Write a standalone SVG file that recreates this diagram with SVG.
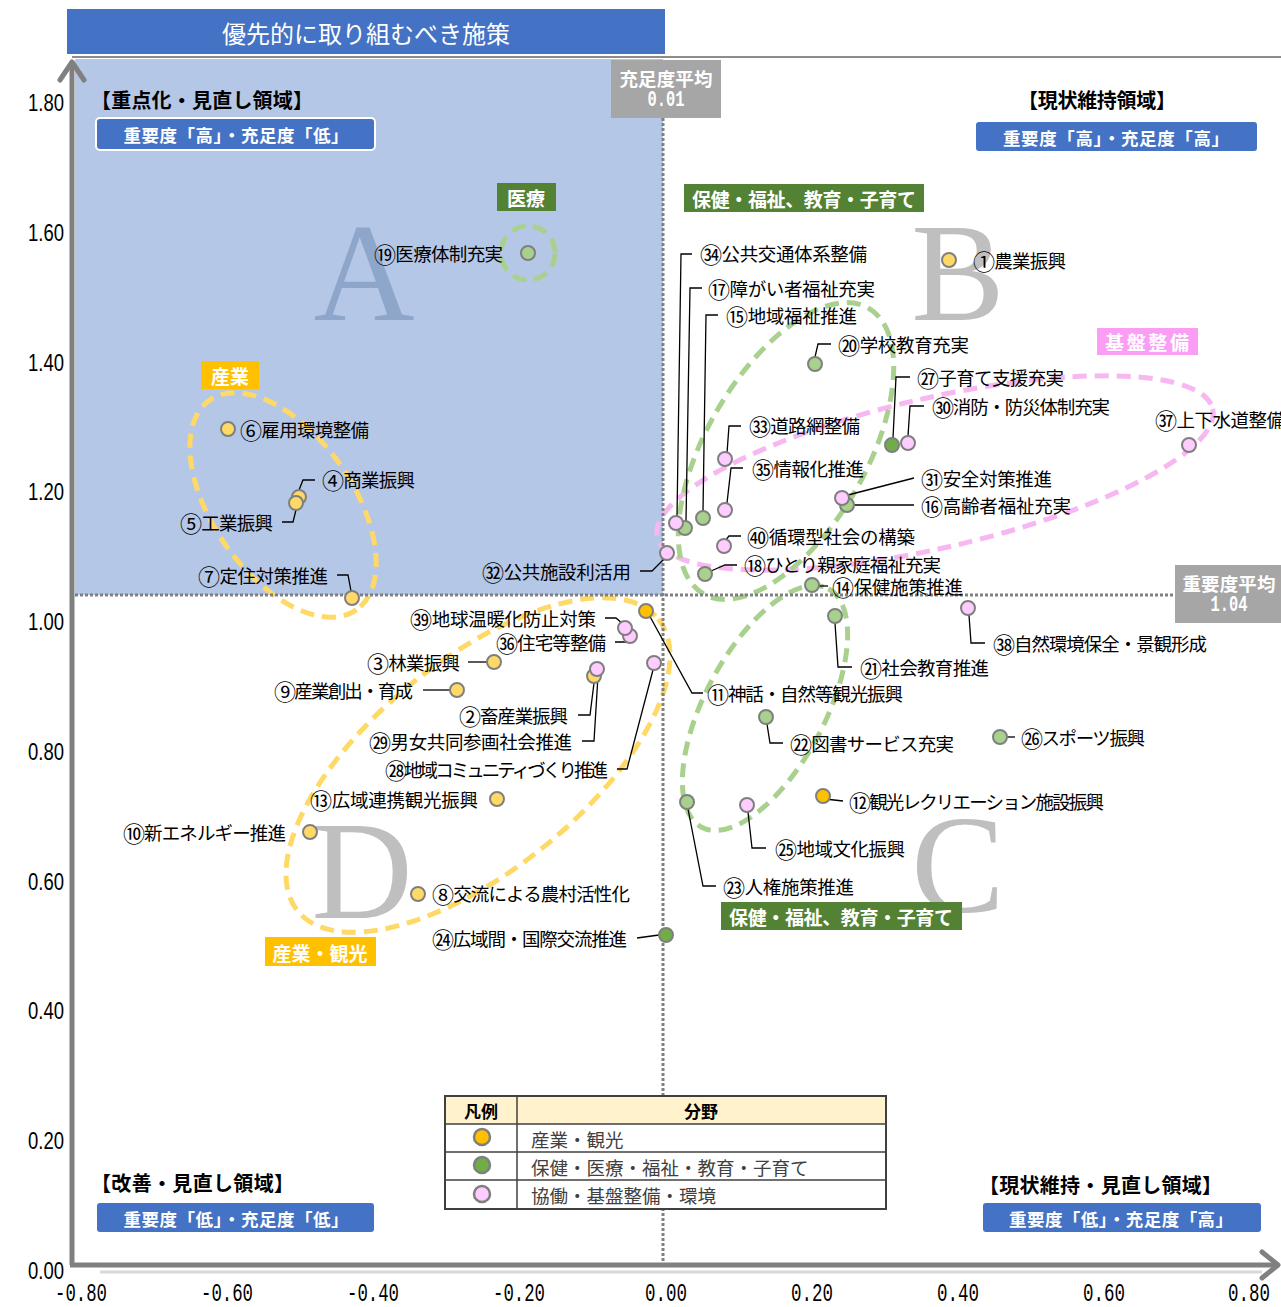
<svg xmlns="http://www.w3.org/2000/svg" width="1281" height="1307" viewBox="0 0 1281 1307">
<style>
.j{font-family:"Noto Sans CJK JP","Noto Sans CJK SC",sans-serif}
.lbl{font-family:"Noto Sans CJK JP",sans-serif;font-size:18.5px;fill:#000;dominant-baseline:central}
.cn{font-size:22px}
.end{text-anchor:end}
.mid{text-anchor:middle}
.hd{font-family:"Noto Sans CJK JP",sans-serif;font-size:20px;font-weight:bold;fill:#000;dominant-baseline:central}
.bx{fill:#4472C4;stroke:#fff;stroke-width:2}
.bxt{font-family:"Noto Sans CJK JP",sans-serif;font-size:17.5px;font-weight:bold;fill:#fff;dominant-baseline:central;text-anchor:middle}
.cat{font-family:"Noto Sans CJK JP",sans-serif;font-size:19px;font-weight:bold;fill:#fff;dominant-baseline:central;text-anchor:middle}
.pt{stroke:#7F7F7F;stroke-width:2}
.y{fill:#FFD966}.o{fill:#FFC000}.g{fill:#A9D18E}.dg{fill:#70AD47}.p{fill:#FFCCFF}
.ldr{fill:none;stroke:#000;stroke-width:1.3}
.dot{fill:none;stroke:#808080;stroke-width:3;stroke-dasharray:3 2}
.big{font-family:"Liberation Serif",serif;font-size:140px;text-anchor:middle}
.ell{fill:none;stroke-width:5;stroke-dasharray:14 8}
.yt{font-family:"Liberation Sans",sans-serif;font-size:23px;fill:#000;dominant-baseline:central;text-anchor:end}
.xt{font-family:"Liberation Mono",monospace;font-size:26px;fill:#000;dominant-baseline:central;text-anchor:middle}
.gb{fill:#A6A6A6}
.gbt{font-family:"Noto Sans CJK JP",sans-serif;font-size:18.5px;font-weight:bold;fill:#fff;dominant-baseline:central;text-anchor:middle}
.gbn{font-family:"Liberation Mono",monospace;font-size:22px;font-weight:bold;fill:#fff;dominant-baseline:central;text-anchor:middle}
.lg{font-family:"Noto Sans CJK JP",sans-serif;font-size:18.5px;fill:#404040;dominant-baseline:central}
</style>
<rect x="0" y="0" width="1281" height="1307" fill="#fff"/>
<rect x="75" y="59" width="588" height="536" fill="#B4C7E7"/>
<text class="big" x="364" y="320" fill="#8FA6CB">A</text>
<text class="big" x="958" y="320" fill="#BFBFBF">B</text>
<text class="big" x="958" y="912" fill="#BFBFBF">C</text>
<text class="big" x="362" y="918" fill="#BFBFBF">D</text>
<g id="groups">
<circle class="ell" cx="528" cy="253" r="27" stroke="#A9D18E"/>
<ellipse class="ell" cx="283" cy="505" rx="128" ry="70" transform="rotate(55 283 505)" stroke="#FFD966"/>
<ellipse class="ell" cx="478" cy="765" rx="232" ry="105" transform="rotate(-39 478 765)" stroke="#FFD966"/>
<ellipse class="ell" cx="935" cy="473" rx="285" ry="75" transform="rotate(-13 935 473)" stroke="#F7B8F2"/>
<ellipse class="ell" cx="786" cy="451" rx="165" ry="80" transform="rotate(-60 786 451)" stroke="#A9D18E"/>
<ellipse class="ell" cx="765" cy="708" rx="135" ry="60" transform="rotate(-62 765 708)" stroke="#A9D18E"/>
</g>
<g id="axes">
<line x1="72" y1="57" x2="1281" y2="57" stroke="#8C8C8C" stroke-width="2"/>
<line x1="100" y1="1272" x2="1262" y2="1272" stroke="#D9D9D9" stroke-width="3"/>
<line x1="72" y1="1265" x2="72" y2="62" stroke="#808080" stroke-width="5"/>
<polyline points="60,80 72,62 84,80" fill="none" stroke="#808080" stroke-width="5" stroke-linecap="round" stroke-linejoin="round"/>
<line x1="70" y1="1265" x2="1276" y2="1265" stroke="#808080" stroke-width="5"/>
<polyline points="1262,1252 1278,1265 1262,1278" fill="none" stroke="#808080" stroke-width="5" stroke-linecap="round" stroke-linejoin="round"/>
<line class="dot" x1="663" y1="118" x2="663" y2="1262"/>
<line class="dot" x1="75" y1="595" x2="1175" y2="595"/>
<text class="yt" x="64" y="103" textLength="36" lengthAdjust="spacingAndGlyphs">1.80</text>
<text class="yt" x="64" y="233" textLength="36" lengthAdjust="spacingAndGlyphs">1.60</text>
<text class="yt" x="64" y="363" textLength="36" lengthAdjust="spacingAndGlyphs">1.40</text>
<text class="yt" x="64" y="492" textLength="36" lengthAdjust="spacingAndGlyphs">1.20</text>
<text class="yt" x="64" y="622" textLength="36" lengthAdjust="spacingAndGlyphs">1.00</text>
<text class="yt" x="64" y="752" textLength="36" lengthAdjust="spacingAndGlyphs">0.80</text>
<text class="yt" x="64" y="882" textLength="36" lengthAdjust="spacingAndGlyphs">0.60</text>
<text class="yt" x="64" y="1011" textLength="36" lengthAdjust="spacingAndGlyphs">0.40</text>
<text class="yt" x="64" y="1141" textLength="36" lengthAdjust="spacingAndGlyphs">0.20</text>
<text class="yt" x="64" y="1271" textLength="36" lengthAdjust="spacingAndGlyphs">0.00</text>
<text class="xt" x="81" y="1294" textLength="52" lengthAdjust="spacingAndGlyphs">-0.80</text>
<text class="xt" x="227" y="1294" textLength="52" lengthAdjust="spacingAndGlyphs">-0.60</text>
<text class="xt" x="373" y="1294" textLength="52" lengthAdjust="spacingAndGlyphs">-0.40</text>
<text class="xt" x="519" y="1294" textLength="52" lengthAdjust="spacingAndGlyphs">-0.20</text>
<text class="xt" x="666" y="1294" textLength="42" lengthAdjust="spacingAndGlyphs">0.00</text>
<text class="xt" x="812" y="1294" textLength="42" lengthAdjust="spacingAndGlyphs">0.20</text>
<text class="xt" x="958" y="1294" textLength="42" lengthAdjust="spacingAndGlyphs">0.40</text>
<text class="xt" x="1104" y="1294" textLength="42" lengthAdjust="spacingAndGlyphs">0.60</text>
<text class="xt" x="1249" y="1294" textLength="42" lengthAdjust="spacingAndGlyphs">0.80</text>
</g>
<g id="connectors">
<polyline class="ldr" points="578,715 590,715 594,683"/>
<polyline class="ldr" points="582,741 594,741 598,676"/>
<polyline class="ldr" points="468,662 487,662"/>
<polyline class="ldr" points="315,480 303,480 299,490"/>
<polyline class="ldr" points="282,522 293,522 296,510"/>
<polyline class="ldr" points="337,575 348,575 351,591"/>
<polyline class="ldr" points="423,690 450,690"/>
<polyline class="ldr" points="648,613 692,693 703,693"/>
<polyline class="ldr" points="825,799 843,801"/>
<polyline class="ldr" points="819,586 828,586"/>
<polyline class="ldr" points="718,315 706,315 703,511"/>
<polyline class="ldr" points="853,505 914,505"/>
<polyline class="ldr" points="702,288 690,288 686,521"/>
<polyline class="ldr" points="711,571 725,565 737,565"/>
<polyline class="ldr" points="815,357 818,344 831,344"/>
<polyline class="ldr" points="835,623 838,667 852,667"/>
<polyline class="ldr" points="767,724 770,743 783,743"/>
<polyline class="ldr" points="688,809 703,886 716,886"/>
<polyline class="ldr" points="637,938 659,935"/>
<polyline class="ldr" points="748,812 752,848 766,848"/>
<polyline class="ldr" points="1007,737 1015,737"/>
<polyline class="ldr" points="893,438 896,377 910,377"/>
<polyline class="ldr" points="617,769 627,769 653,670"/>
<polyline class="ldr" points="908,436 910,406 924,406"/>
<polyline class="ldr" points="848,495 914,478"/>
<polyline class="ldr" points="640,571 652,571 665,558"/>
<polyline class="ldr" points="727,453 729,426 741,426"/>
<polyline class="ldr" points="692,254 681,254 677,516"/>
<polyline class="ldr" points="727,503 731,468 743,468"/>
<polyline class="ldr" points="615,642 626,642 630,637"/>
<polyline class="ldr" points="969,615 971,643 985,643"/>
<polyline class="ldr" points="605,618 616,618 623,624"/>
<polyline class="ldr" points="725,541 729,536 741,536"/>
</g>
<g id="n01"><circle class="pt y" cx="949" cy="260" r="7"/><text class="lbl" x="973" y="260" textLength="93"><tspan class="cn">①</tspan>農業振興</text></g>
<g id="n02"><circle class="pt y" cx="594" cy="676" r="7"/><text class="lbl end" x="568" y="715" textLength="109"><tspan class="cn">②</tspan>畜産業振興</text></g>
<g id="n29"><circle class="pt p" cx="597" cy="669" r="7"/><text class="lbl end" x="572" y="741" textLength="203"><tspan class="cn">㉙</tspan>男女共同参画社会推進</text></g>
<g id="n03"><circle class="pt y" cx="494" cy="662" r="7"/><text class="lbl end" x="460" y="662" textLength="93"><tspan class="cn">③</tspan>林業振興</text></g>
<g id="n04"><circle class="pt y" cx="299" cy="497" r="7"/><text class="lbl" x="322" y="479" textLength="93"><tspan class="cn">④</tspan>商業振興</text></g>
<g id="n05"><circle class="pt y" cx="296" cy="503" r="7"/><text class="lbl end" x="273" y="522" textLength="93"><tspan class="cn">⑤</tspan>工業振興</text></g>
<g id="n06"><circle class="pt y" cx="228" cy="429" r="7"/><text class="lbl" x="240" y="429" textLength="129"><tspan class="cn">⑥</tspan>雇用環境整備</text></g>
<g id="n07"><circle class="pt y" cx="352" cy="598" r="7"/><text class="lbl end" x="328" y="575" textLength="130"><tspan class="cn">⑦</tspan>定住対策推進</text></g>
<g id="n08"><circle class="pt y" cx="418" cy="894" r="7"/><text class="lbl" x="432" y="893" textLength="198"><tspan class="cn">⑧</tspan>交流による農村活性化</text></g>
<g id="n09"><circle class="pt y" cx="457" cy="690" r="7"/><text class="lbl end" x="413" y="690" textLength="139"><tspan class="cn">⑨</tspan>産業創出・育成</text></g>
<g id="n10"><circle class="pt y" cx="310" cy="832" r="7"/><text class="lbl end" x="286" y="832" textLength="163"><tspan class="cn">⑩</tspan>新エネルギー推進</text></g>
<g id="n11"><circle class="pt o" cx="646" cy="611" r="7"/><text class="lbl" x="707" y="693" textLength="196"><tspan class="cn">⑪</tspan>神話・自然等観光振興</text></g>
<g id="n12"><circle class="pt o" cx="823" cy="796" r="7"/><text class="lbl" x="849" y="801" textLength="255"><tspan class="cn">⑫</tspan>観光レクリエーション施設振興</text></g>
<g id="n13"><circle class="pt y" cx="497" cy="799" r="7"/><text class="lbl end" x="478" y="799" textLength="168"><tspan class="cn">⑬</tspan>広域連携観光振興</text></g>
<g id="n14"><circle class="pt g" cx="812" cy="585" r="7"/><text class="lbl" x="832" y="586" textLength="131"><tspan class="cn">⑭</tspan>保健施策推進</text></g>
<g id="n15"><circle class="pt g" cx="703" cy="518" r="7"/><text class="lbl" x="726" y="315" textLength="131"><tspan class="cn">⑮</tspan>地域福祉推進</text></g>
<g id="n16"><circle class="pt g" cx="847" cy="505" r="7"/><text class="lbl" x="921" y="505" textLength="150"><tspan class="cn">⑯</tspan>高齢者福祉充実</text></g>
<g id="n17"><circle class="pt g" cx="685" cy="528" r="7"/><text class="lbl" x="708" y="288" textLength="167"><tspan class="cn">⑰</tspan>障がい者福祉充実</text></g>
<g id="n18"><circle class="pt g" cx="705" cy="574" r="7"/><text class="lbl" x="744" y="564" textLength="197"><tspan class="cn">⑱</tspan>ひとり親家庭福祉充実</text></g>
<g id="n19"><circle class="pt g" cx="528" cy="253" r="7"/><text class="lbl end" x="503" y="253" textLength="129"><tspan class="cn">⑲</tspan>医療体制充実</text></g>
<g id="n20"><circle class="pt g" cx="815" cy="364" r="7"/><text class="lbl" x="838" y="344" textLength="131"><tspan class="cn">⑳</tspan>学校教育充実</text></g>
<g id="n21"><circle class="pt g" cx="835" cy="616" r="7"/><text class="lbl" x="860" y="667" textLength="129"><tspan class="cn">㉑</tspan>社会教育推進</text></g>
<g id="n22"><circle class="pt g" cx="766" cy="717" r="7"/><text class="lbl" x="790" y="743" textLength="164"><tspan class="cn">㉒</tspan>図書サービス充実</text></g>
<g id="n23"><circle class="pt g" cx="687" cy="802" r="7"/><text class="lbl" x="723" y="886" textLength="131"><tspan class="cn">㉓</tspan>人権施策推進</text></g>
<g id="n24"><circle class="pt dg" cx="666" cy="935" r="7"/><text class="lbl end" x="627" y="938" textLength="195"><tspan class="cn">㉔</tspan>広域間・国際交流推進</text></g>
<g id="n25"><circle class="pt p" cx="747" cy="805" r="7"/><text class="lbl" x="775" y="848" textLength="130"><tspan class="cn">㉕</tspan>地域文化振興</text></g>
<g id="n26"><circle class="pt g" cx="1000" cy="737" r="7"/><text class="lbl" x="1021" y="737" textLength="124"><tspan class="cn">㉖</tspan>スポーツ振興</text></g>
<g id="n27"><circle class="pt dg" cx="892" cy="445" r="7"/><text class="lbl" x="917" y="377" textLength="147"><tspan class="cn">㉗</tspan>子育て支援充実</text></g>
<g id="n28"><circle class="pt p" cx="654" cy="663" r="7"/><text class="lbl end" x="608" y="769" textLength="223"><tspan class="cn">㉘</tspan>地域コミュニティづくり推進</text></g>
<g id="n30"><circle class="pt p" cx="908" cy="443" r="7"/><text class="lbl" x="932" y="406" textLength="178"><tspan class="cn">㉚</tspan>消防・防災体制充実</text></g>
<g id="n31"><circle class="pt p" cx="842" cy="498" r="7"/><text class="lbl" x="921" y="478" textLength="131"><tspan class="cn">㉛</tspan>安全対策推進</text></g>
<g id="n32"><circle class="pt p" cx="667" cy="553" r="7"/><text class="lbl end" x="631" y="571" textLength="149"><tspan class="cn">㉜</tspan>公共施設利活用</text></g>
<g id="n33"><circle class="pt p" cx="725" cy="459" r="7"/><text class="lbl" x="749" y="425" textLength="111"><tspan class="cn">㉝</tspan>道路網整備</text></g>
<g id="n34"><circle class="pt p" cx="676" cy="523" r="7"/><text class="lbl" x="700" y="253" textLength="167"><tspan class="cn">㉞</tspan>公共交通体系整備</text></g>
<g id="n35"><circle class="pt p" cx="725" cy="510" r="7"/><text class="lbl" x="752" y="468" textLength="112"><tspan class="cn">㉟</tspan>情報化推進</text></g>
<g id="n36"><circle class="pt p" cx="630" cy="636" r="7"/><text class="lbl end" x="606" y="642" textLength="110"><tspan class="cn">㊱</tspan>住宅等整備</text></g>
<g id="n39"><circle class="pt p" cx="625" cy="628" r="7"/><text class="lbl end" x="596" y="618" textLength="186"><tspan class="cn">㊴</tspan>地球温暖化防止対策</text></g>
<g id="n37"><circle class="pt p" cx="1189" cy="445" r="7"/><text class="lbl" x="1155" y="419" textLength="130"><tspan class="cn">㊲</tspan>上下水道整備</text></g>
<g id="n38"><circle class="pt p" cx="968" cy="608" r="7"/><text class="lbl" x="993" y="643" textLength="214"><tspan class="cn">㊳</tspan>自然環境保全・景観形成</text></g>
<g id="n40"><circle class="pt p" cx="724" cy="546" r="7"/><text class="lbl" x="747" y="536" textLength="168"><tspan class="cn">㊵</tspan>循環型社会の構築</text></g>
<g id="title">
<rect x="67" y="9" width="598" height="45" fill="#4472C4"/>
<text class="j" x="366" y="32" font-size="24" fill="#fff" text-anchor="middle" dominant-baseline="central">優先的に取り組むべき施策</text>
</g>
<g id="avgX">
<rect class="gb" x="611" y="60" width="110" height="58"/>
<text class="gbt" x="666" y="78" textLength="93">充足度平均</text>
<text class="gbn" x="666" y="100" textLength="37" lengthAdjust="spacingAndGlyphs">0.01</text>
</g>
<g id="avgY">
<rect class="gb" x="1175" y="565" width="106" height="58"/>
<text class="gbt" x="1229" y="583" textLength="93">重要度平均</text>
<text class="gbn" x="1229" y="605" textLength="37" lengthAdjust="spacingAndGlyphs">1.04</text>
</g>
<g id="qA">
<text class="hd" x="91" y="99" textLength="222">【重点化・見直し領域】</text>
<rect class="bx" x="96" y="118" width="279" height="32" rx="4"/>
<text class="bxt" x="236" y="134" textLength="225">重要度「高」・充足度「低」</text>
</g>
<g id="qB">
<text class="hd mid" x="1097" y="99" textLength="158">【現状維持領域】</text>
<rect class="bx" x="975" y="121" width="283" height="31" rx="4"/>
<text class="bxt" x="1116" y="137" textLength="226">重要度「高」・充足度「高」</text>
</g>
<g id="qD">
<text class="hd" x="91" y="1182" textLength="203">【改善・見直し領域】</text>
<rect class="bx" x="96" y="1202" width="279" height="31" rx="4"/>
<text class="bxt" x="236" y="1218" textLength="225">重要度「低」・充足度「低」</text>
</g>
<g id="qC">
<text class="hd" x="979" y="1184" textLength="243">【現状維持・見直し領域】</text>
<rect class="bx" x="982" y="1202" width="280" height="31" rx="4"/>
<text class="bxt" x="1121" y="1218" textLength="224">重要度「低」・充足度「高」</text>
</g>
<g id="cat-iryo"><rect x="497" y="183" width="59" height="28" fill="#548235"/><text class="cat" x="526" y="197" font-size="20">医療</text></g>
<g id="cat-hoken1"><rect x="684" y="184" width="240" height="28" fill="#548235"/><text class="cat" x="804" y="198" textLength="224">保健・福祉、教育・子育て</text></g>
<g id="cat-sangyo"><rect x="201" y="361" width="58" height="28" fill="#FFC000"/><text class="cat" x="230" y="375" font-size="20">産業</text></g>
<g id="cat-kiban"><rect x="1097" y="328" width="101" height="27" fill="#FA9EF5"/><text class="cat" x="1147" y="341" textLength="84">基盤整備</text></g>
<g id="cat-hoken2"><rect x="721" y="902" width="241" height="28" fill="#548235"/><text class="cat" x="841" y="916" textLength="224">保健・福祉、教育・子育て</text></g>
<g id="cat-kanko"><rect x="265" y="937" width="111" height="29" fill="#FFC000"/><text class="cat" x="320" y="952" textLength="95">産業・観光</text></g>
<g id="legend">
<rect x="445" y="1096" width="441" height="113" fill="#fff" stroke="#404040" stroke-width="2"/>
<rect x="446" y="1097" width="439" height="27" fill="#FFF2CC"/>
<line x1="445" y1="1124" x2="886" y2="1124" stroke="#404040" stroke-width="1.5"/>
<line x1="445" y1="1152" x2="886" y2="1152" stroke="#404040" stroke-width="1.5"/>
<line x1="445" y1="1180" x2="886" y2="1180" stroke="#404040" stroke-width="1.5"/>
<line x1="517" y1="1096" x2="517" y2="1209" stroke="#404040" stroke-width="1.5"/>
<text class="j" x="481" y="1110" font-size="17" font-weight="bold" text-anchor="middle" dominant-baseline="central">凡例</text>
<text class="j" x="701" y="1110" font-size="17" font-weight="bold" text-anchor="middle" dominant-baseline="central">分野</text>
<circle cx="482" cy="1137" r="8" fill="#FFC000" stroke="#7F7F7F" stroke-width="2.5"/>
<circle cx="482" cy="1165" r="8" fill="#70AD47" stroke="#7F7F7F" stroke-width="2.5"/>
<circle cx="482" cy="1194" r="8" fill="#FFCCFF" stroke="#7F7F7F" stroke-width="2.5"/>
<text class="lg" x="531" y="1139">産業・観光</text>
<text class="lg" x="531" y="1167">保健・医療・福祉・教育・子育て</text>
<text class="lg" x="531" y="1195">協働・基盤整備・環境</text>
</g>
</svg>
